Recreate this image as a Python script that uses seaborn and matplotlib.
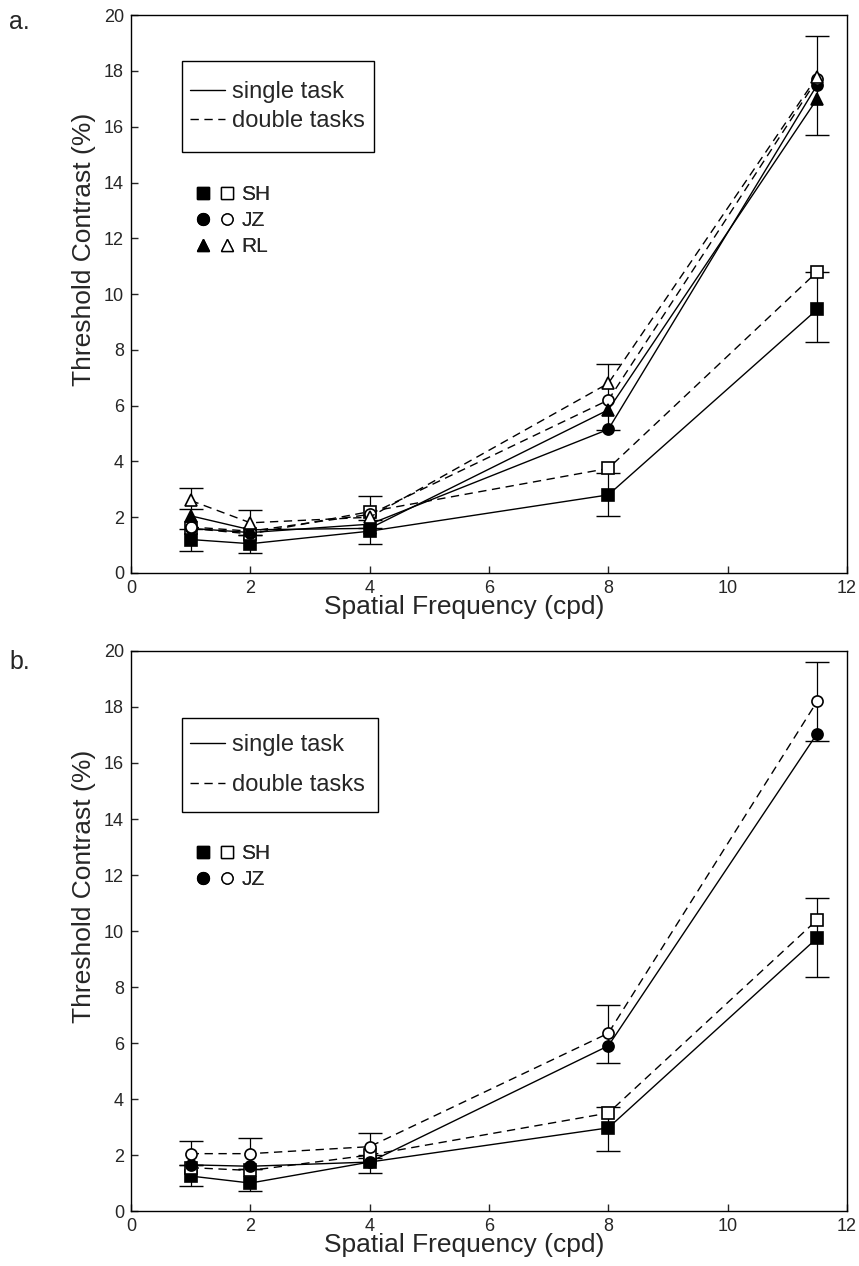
import numpy as np
import pandas as pd
import matplotlib
matplotlib.use("Agg")
import matplotlib.pyplot as plt
from matplotlib.lines import Line2D
from matplotlib.patches import Rectangle
from matplotlib.legend_handler import HandlerTuple
import seaborn as sns

sns.set_theme(style="white")
plt.rcParams['font.family'] = ['Liberation Sans', 'DejaVu Sans']

freq = [1, 2, 4, 8, 11.5]

# Panel a
sh_single_a = [1.2, 1.05, 1.5, 2.8, 9.45]
sh_double_a = [1.6, 1.4, 2.2, 3.75, 10.8]
jz_single_a = [1.6, 1.45, 1.75, 5.15, 17.5]
jz_double_a = [1.65, 1.5, 2.1, 6.2, 17.7]
rl_single_a = [2.05, 1.55, 1.6, 5.85, 17.0]
rl_double_a = [2.6, 1.8, 2.0, 6.8, 17.8]
err_hi_lo_a = [2.29, 1.37, 1.6, 5.14, 15.7]
err_hi_hi_a = [3.05, 2.27, 2.75, 7.5, 19.25]
err_lo_lo_a = [0.79, 0.72, 1.05, 2.05, 8.28]
err_lo_hi_a = [1.57, 1.37, 1.9, 3.6, 10.8]

# Panel b
sh_single_b = [1.25, 1.0, 1.75, 2.97, 9.75]
sh_double_b = [1.55, 1.45, 2.0, 3.5, 10.4]
jz_single_b = [1.65, 1.6, 1.75, 5.9, 17.05]
jz_double_b = [2.05, 2.05, 2.3, 6.35, 18.2]
err_hi_lo_b = [1.65, 1.5, 1.9, 5.29, 16.8]
err_hi_hi_b = [2.5, 2.62, 2.8, 7.36, 19.6]
err_lo_lo_b = [0.9, 0.72, 1.35, 2.14, 8.36]
err_lo_hi_b = [1.65, 1.5, 2.0, 3.72, 11.18]

xticks = [0, 2, 4, 6, 8, 10, 12]
yticks = [0, 2, 4, 6, 8, 10, 12, 14, 16, 18, 20]

W, H = 859, 1266
fig = plt.figure(figsize=(W / 100, H / 100), dpi=100)
ax_a = fig.add_axes([0.1525, 0.5474, 0.8335, 0.4406])
ax_b = fig.add_axes([0.1525, 0.0434, 0.8335, 0.4424])

MS = 8
FS = 13

def draw_series(ax, y, marker, filled, dashed):
    df = pd.DataFrame({"x": freq, "y": y})
    sns.lineplot(data=df, x="x", y="y", ax=ax, color="black",
                 linewidth=1.0, linestyle=(0, (6, 4)) if dashed else "-",
                 marker=marker, markersize=MS,
                 markerfacecolor="black" if filled else "white",
                 markeredgecolor="black", markeredgewidth=1.2,
                 errorbar=None, sort=False, legend=False)

def draw_err(ax, lo, hi):
    lo = np.array(lo); hi = np.array(hi)
    mid = (lo + hi) / 2
    ax.errorbar(freq, mid, yerr=[mid - lo, hi - mid], fmt="none",
                ecolor="black", elinewidth=0.9, capsize=8.5, capthick=1.0)

def style_axes(ax, label, label_y):
    ax.set_xlim(0, 12)
    ax.set_ylim(0, 20)
    ax.set_xticks(xticks)
    ax.set_yticks(yticks)
    ax.tick_params(direction="in", length=5, width=1, labelsize=FS,
                   bottom=True, left=True, top=False, right=False, pad=5)
    for s in ax.spines.values():
        s.set_color("black")
        s.set_linewidth(1.0)
    ax.set_xlabel("Spatial Frequency (cpd)", fontsize=19)
    ax.set_ylabel("Threshold Contrast (%)", fontsize=19)
    ax.xaxis.set_label_coords(0.465, -0.039, transform=ax.transAxes)
    ax.xaxis.label.set_va("top")
    ax.yaxis.set_label_coords(-0.066, 0.58, transform=ax.transAxes)
    ax.yaxis.label.set_va("center")
    fig.text(9 / W, 1 - label_y / H, label, fontsize=18, va="center", ha="left")

def line_legend(ax, box, spacing):
    # box = (left, top, right, bottom) in pixels
    l, t, r, b = box
    h = [Line2D([], [], color="black", lw=1.0, ls="-"),
         Line2D([], [], color="black", lw=1.0, ls=(0, (6, 4)))]
    fig_to_ax = lambda px, py: ax.transAxes.inverted().transform((px, H - py))
    x0, y0 = fig_to_ax(l, b)
    x1, y1 = fig_to_ax(r, t)
    ax.add_patch(Rectangle((x0, y0), x1 - x0, y1 - y0, transform=ax.transAxes,
                           fill=False, edgecolor="black", linewidth=1.0, zorder=5))
    leg = ax.legend(h, ["single task", "double tasks"], loc="center left",
                    bbox_to_anchor=(x0 + 0.004, (y0 + y1) / 2), fontsize=17,
                    frameon=False, handlelength=1.5, handletextpad=0.3,
                    borderpad=0.2, labelspacing=spacing, borderaxespad=0)
    ax.add_artist(leg)

def marker_legend(ax, names, markers, y_top):
    handles = []
    for m in markers:
        f = Line2D([], [], ls="none", marker=m, color="black",
                   markerfacecolor="black", markersize=8.5)
        o = Line2D([], [], ls="none", marker=m, color="black",
                   markerfacecolor="white", markersize=8)
        handles.append((f, o))
    leg = ax.legend(handles, names, loc="upper left",
                    bbox_to_anchor=(0.08, y_top), fontsize=15,
                    frameon=False, handler_map={tuple: HandlerTuple(ndivide=None, pad=0.5)},
                    handlelength=1.8, handletextpad=0.35, labelspacing=0.33,
                    borderaxespad=0)
    ax.add_artist(leg)

fig.canvas.draw()

# Panel a
draw_err(ax_a, err_hi_lo_a, err_hi_hi_a)
draw_err(ax_a, err_lo_lo_a, err_lo_hi_a)
draw_series(ax_a, sh_single_a, "s", True, False)
draw_series(ax_a, sh_double_a, "s", False, True)
draw_series(ax_a, jz_single_a, "o", True, False)
draw_series(ax_a, jz_double_a, "o", False, True)
draw_series(ax_a, rl_single_a, "^", True, False)
draw_series(ax_a, rl_double_a, "^", False, True)
style_axes(ax_a, "a.", 22)
line_legend(ax_a, (182, 61, 374, 152), 0.28)
marker_legend(ax_a, ["SH", "JZ", "RL"], ["s", "o", "^"], 0.71)

# Panel b
draw_err(ax_b, err_hi_lo_b, err_hi_hi_b)
draw_err(ax_b, err_lo_lo_b, err_lo_hi_b)
draw_series(ax_b, sh_single_b, "s", True, False)
draw_series(ax_b, sh_double_b, "s", False, True)
draw_series(ax_b, jz_single_b, "o", True, False)
draw_series(ax_b, jz_double_b, "o", False, True)
style_axes(ax_b, "b.", 662)
line_legend(ax_b, (182, 718, 378, 812), 0.75)
marker_legend(ax_b, ["SH", "JZ"], ["s", "o"], 0.67)

fig.savefig("out.png", dpi=100)
